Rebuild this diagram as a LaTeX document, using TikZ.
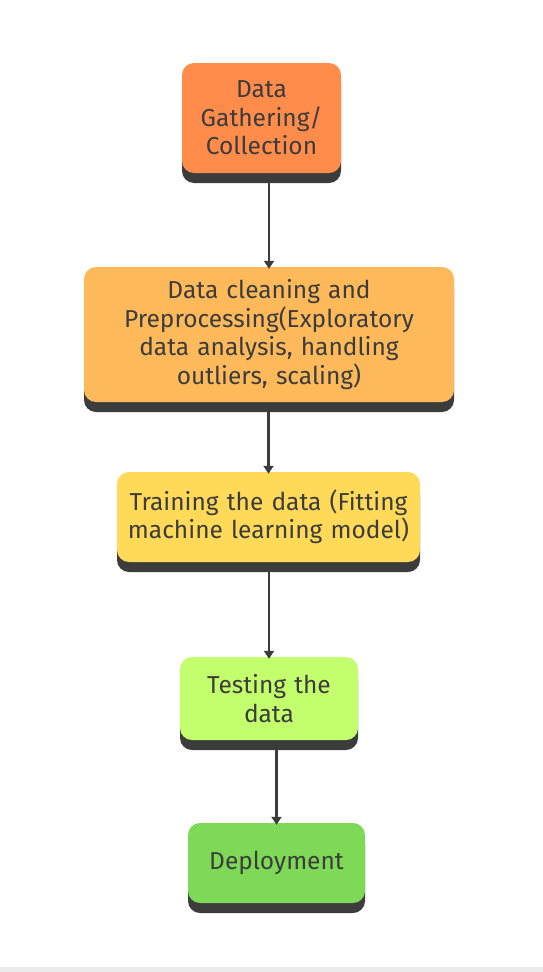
\documentclass[tikz,border=0pt]{standalone}
\usepackage{fontspec}
\setmainfont{Fira Sans}
\usetikzlibrary{arrows.meta,shadows}
\definecolor{gatherfill}{HTML}{FF8C4B}
\definecolor{cleanfill}{HTML}{FDB95A}
\definecolor{trainfill}{HTML}{FFDA58}
\definecolor{testfill}{HTML}{C3FF6D}
\definecolor{deployfill}{HTML}{7ED957}
\definecolor{inkgray}{HTML}{3C3C3C}
\definecolor{basegray}{HTML}{EBEBEB}
\begin{document}
\begin{tikzpicture}
[x=1pt,y=-1pt,
  stepbox/.style={shape=rectangle,rounded corners=12pt,text=inkgray,align=center,
    inner sep=0pt,font=\fontsize{24.5}{28.5}\selectfont,
    general shadow={fill=inkgray,shadow xshift=0pt,shadow yshift=-10pt}},%
  linkarrow/.style={-{Triangle[length=8pt,width=10pt]},line width=2.4pt,draw=inkgray}]
\useasboundingbox (0,0) rectangle (543,972);
\fill[basegray] (0,967) rectangle (543,972);
%% nodes or steps
\node (gather) at (261.5,118) [stepbox,fill=gatherfill,minimum width=159pt,minimum height=110pt,text width=155pt]
  {Data\\ Gathering/\\ Collection};
\node (clean) at (269,334.5) [stepbox,fill=cleanfill,minimum width=370pt,minimum height=135pt,text width=360pt]
  {Data cleaning and\\ Preprocessing(Exploratory\\ data analysis, handling\\ outliers, scaling)};
\node (train) at (268.5,517) [stepbox,fill=trainfill,minimum width=303pt,minimum height=90pt,text width=300pt]
  {Training the data (Fitting\\ machine learning model)};
\node (test) at (269,698.5) [stepbox,fill=testfill,minimum width=178pt,minimum height=83pt,text width=175pt]
  {Testing the\\ data};
\node (deploy) at (276.5,863) [stepbox,fill=deployfill,minimum width=177pt,minimum height=80pt,text width=175pt]
  {Deployment};
%% arrows
\foreach \startnode/\endnode in {gather/clean, clean/train, train/test, test/deploy}
{
  \draw[linkarrow] (\endnode.north |- \startnode.south) ++(0,10) -- ([yshift=-2pt]\endnode.north);
}
\end{tikzpicture}
\end{document}
